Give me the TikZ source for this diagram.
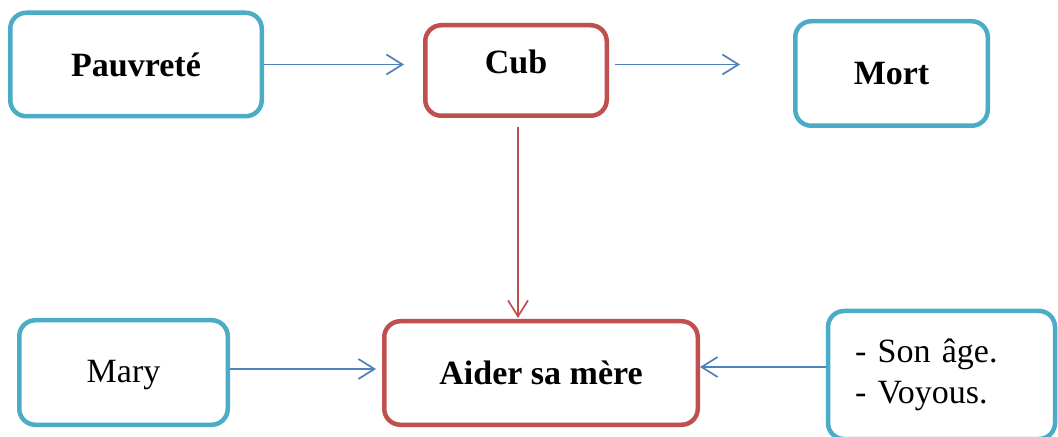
\documentclass[tikz,border=0pt]{standalone}
\usepackage{fontspec}
\setmainfont{Liberation Serif}
\usepackage{xcolor}
\usepackage{tikz}
\usetikzlibrary{arrows.meta}

\definecolor{cadre}{HTML}{4BACC6}
\definecolor{brique}{HTML}{C0504D}
\definecolor{fleche}{HTML}{4F81BD}

\tikzset{
  boite/.style={rectangle, draw, line width=2.25pt, rounded corners=8pt,
    fill=white, text=black, font=\fontsize{17}{20.5}\selectfont},
  bleu/.style={boite, draw=cadre},
  rouge/.style={boite, draw=brique},
  lien/.style={line width=0.85pt, draw=fleche,
    -{Straight Barb[length=8pt,width=10pt,line width=0.85pt]}},
}

\begin{document}
\begin{tikzpicture}[x=0.5pt,y=-0.5pt]

\useasboundingbox (0,0) rectangle (1058,437);

 \node[bleu, minimum width = 125.75pt,
    minimum height = 51.75pt] (pauv) at (136,64.5) {\textbf{Pauvreté}};

 \node[rouge, minimum width = 90.75pt,
    minimum height = 45.25pt, text depth=8.5pt] (cub) at (516,70.5) {\textbf{Cub}};

 \node[bleu, minimum width = 96.25pt,
    minimum height = 52.25pt] (mort) at (891.5,73.5) {\textbf{Mort}};

 \node[bleu, minimum width = 104.25pt,
    minimum height = 52.25pt, text depth=1pt] (mary) at (123.5,372.5) {Mary};

 \node[rouge, minimum width = 156.75pt,
    minimum height = 51.75pt] (aider) at (541,373) {\textbf{Aider sa mère}};

 \node[bleu, minimum height = 64pt, text width=86.5pt, inner xsep=13.5pt,
    align=left] (age) at (941.5,375) {- Son âge.\\- Voyous.};

\draw [lien, shorten >=9.5pt] (pauv.east) -- (pauv.east -| cub.west);
\draw [lien, shorten <=3pt, shorten >=26.5pt] (cub.east |- pauv.east) -- (mort.west |- pauv.east);
\draw [lien, shorten >=3pt] ([yshift=1.75pt]mary.east) -- ([yshift=1.75pt]mary.east -| aider.west);
\draw [lien] ([yshift=4pt]age.west) -- ([yshift=4pt]age.west -| aider.east);

\draw [lien, draw=brique, shorten <=4.5pt, shorten >=0.5pt] ([xshift=1pt]cub.south) -- ([xshift=1pt]cub.south |- aider.north);

\end{tikzpicture}
\end{document}
